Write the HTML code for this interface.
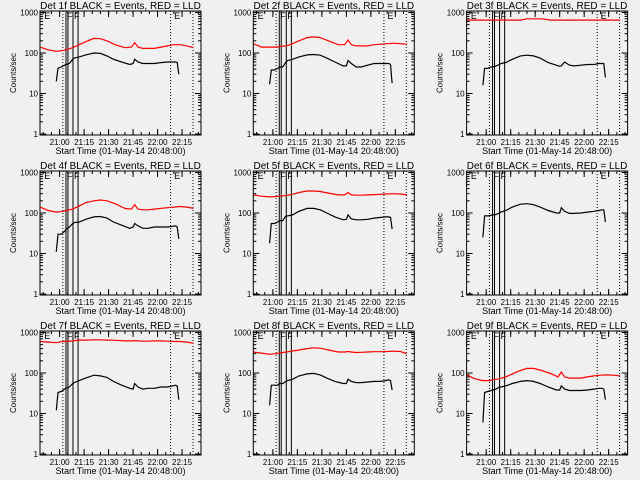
<!DOCTYPE html>
<html><head><meta charset="utf-8"><style>
html,body{margin:0;padding:0;background:#f0f0f0;}
svg{display:block;font-family:"Liberation Sans",sans-serif;}
</style></head><body>
<svg id="c" width="640" height="480" viewBox="0 0 640 480"></svg>
<script>
const detNames=["1f","2f","3f","4f","5f","6f","7f","8f","9f"];
const tBlack=[10,11,13,15,16,18,20,21,24,28,33,37,41,45,50,55,57,58,60,63,66,70,74,78,81,83,84,85];
const tRed=[0,5,10,14,16,20,24,28,33,37,41,46,52,56,58,60,63,66,70,74,78,82,86,90,94];
const black1=[20,42,45,50,52,55,70,75,80,90,100,98,85,70,60,52,55,70,60,55,55,55,58,60,60,60,58,30];
const black2=[17,38,38,42,45,45,60,65,70,80,90,92,88,75,60,48,48,65,55,45,45,50,55,55,55,55,52,18];
const black3=[16,42,42,45,45,48,52,55,58,70,85,88,85,75,58,50,47,48,60,50,48,50,52,52,55,55,55,25];
const black4=[11,30,30,35,40,45,55,58,60,70,80,82,75,60,50,42,45,55,48,42,42,45,45,45,47,48,45,23];
const black5=[18,55,55,60,65,65,85,85,90,110,130,130,120,100,80,68,70,90,72,68,68,70,75,78,80,80,78,40];
const black6=[25,85,85,88,90,92,100,105,115,140,165,170,160,140,115,100,100,135,110,98,98,100,105,110,115,120,120,60];
const black7=[12,33,35,40,42,45,55,58,65,75,88,85,78,62,50,42,40,55,45,40,42,42,45,45,48,50,48,22];
const black8=[16,50,50,50,55,55,62,65,70,85,95,98,90,75,62,55,55,70,62,58,58,60,62,62,65,68,65,38];
const black9=[6,33,35,37,38,40,45,45,48,55,62,65,62,55,45,38,38,48,40,37,37,37,38,40,42,42,40,22];
const red1=[140,120,110,115,120,135,160,190,230,225,200,160,135,140,180,140,130,130,130,140,150,160,160,150,135];
const red2=[170,140,140,140,145,150,170,200,240,250,240,200,160,160,210,160,150,150,150,160,165,170,175,170,165];
const red3=[650,650,650,650,650,650,650,650,650,700,700,700,650,650,650,650,650,650,650,650,650,650,650,650,650];
const red4=[140,115,105,110,115,125,150,180,200,210,200,170,130,125,160,125,120,120,125,130,135,140,145,140,130];
const red5=[280,260,250,255,260,270,290,320,350,350,340,310,280,280,320,280,275,275,280,285,290,295,300,295,280];
const red6=null;
const red7=[600,580,560,600,600,620,650,650,660,660,650,640,620,620,630,620,610,610,620,620,610,600,600,580,540];
const red8=[330,310,290,300,310,330,350,370,400,420,410,370,330,330,340,330,320,325,330,335,335,340,345,340,300];
const red9=[90,72,65,65,68,72,80,95,115,130,130,115,95,80,105,80,75,75,75,80,85,88,90,88,85];
const blacks=[black1,black2,black3,black4,black5,black6,black7,black8,black9];
const reds=[red1,red2,red3,red4,red5,red6,red7,red8,red9];
const xTickMin=[12,27,42,57,72,87];
const xTickLabels=["21:00","21:15","21:30","21:45","22:00","22:15"];
const yTickVals=[1,10,100,1000];
const yTickLabels=["1","10","100","1000"];
const dottedMin=[14,80,93.7];
const solidMin=[15.9,17.1,20.2,23.3];

const NS="http://www.w3.org/2000/svg";
const svg=document.getElementById('c');
function mk(tag,attrs,parent){const e=document.createElementNS(NS,tag);for(const k in attrs)e.setAttribute(k,attrs[k]);(parent||svg).appendChild(e);return e;}

for(let p=0;p<9;p++){
  const c=p%3,r=Math.floor(p/3);
  const L=40+213.3*c, R=L+161, T=11+160*r, B=135+160*r;
  const xs=m=>L+m*(R-L)/98.6;
  const ys=v=>B-1-Math.log10(v)*40.5;
  const g=mk('g',{});
  
  
  const title=mk('text',{x:(L+R)/2,y:T-2,'font-size':10,'text-anchor':'middle',fill:'#000'},g);
  title.textContent='Det '+detNames[p]+' BLACK = Events, RED = LLD';
  
  
  const yl=mk('text',{x:0,y:0,'font-size':8,'text-anchor':'middle',fill:'#000',transform:`translate(${L-24},${(T+B)/2}) rotate(-90)`},g);
  yl.textContent='Counts/sec';
  
  
  const xl=mk('text',{x:(L+R)/2,y:B+19,'font-size':9,'text-anchor':'middle',fill:'#000'},g);
  xl.textContent='Start Time (01-May-14 20:48:00)';
  
  
  for(let i=0;i<yTickVals.length;i++){
    const y=ys(yTickVals[i]);
    mk('line',{x1:L,x2:L+6,y1:y,y2:y,stroke:'#000'},g);
    mk('line',{x1:R-6,x2:R,y1:y,y2:y,stroke:'#000'},g);
    const t=mk('text',{x:L-2,y:y+3,'font-size':8,'text-anchor':'end',fill:'#000'},g);
    t.textContent=yTickLabels[i];
    
    
    if(i<yTickVals.length-1){for(let k=2;k<10;k++){const yy=ys(yTickVals[i]*k);
      mk('line',{x1:L,x2:L+3,y1:yy,y2:yy,stroke:'#000'},g);mk('line',{x1:R-3,x2:R,y1:yy,y2:yy,stroke:'#000'},g);}}
  }
  for(let i=0;i<xTickMin.length;i++){
    const x=xs(xTickMin[i]);
    mk('line',{x1:x,x2:x,y1:B,y2:B-6,stroke:'#000'},g);
    mk('line',{x1:x,x2:x,y1:T,y2:T+6,stroke:'#000'},g);
    const t=mk('text',{x:x,y:B+10,'font-size':8,'text-anchor':'middle',fill:'#000'},g);
    t.textContent=xTickLabels[i];
    
    
  }
  for(let m=2;m<98;m+=5){const x=xs(m);mk('line',{x1:x,x2:x,y1:B,y2:B-3,stroke:'#000'},g);mk('line',{x1:x,x2:x,y1:T,y2:T+3,stroke:'#000'},g);}
  dottedMin.forEach(m=>{const x=xs(m);const l=mk('line',{x1:x,x2:x,y1:T,y2:B,stroke:'#000','stroke-dasharray':'1,2'},g);
    });
  solidMin.forEach(m=>{const x=xs(m);const l=mk('line',{x1:x,x2:x,y1:T,y2:B,stroke:'#000'},g);
    });
  [[2,'E'],[81.5,'E'],[15.9,'F'],[20.2,'F']].forEach(a=>{const t=mk('text',{x:xs(a[0])+1,y:T+8,'font-size':9,fill:'#000'},g);t.textContent=a[1];
    });
  const rd=reds[p];
  if(rd){const pl=mk('polyline',{points:tRed.map((t,i)=>xs(t).toFixed(1)+','+ys(rd[i]).toFixed(1)).join(' '),fill:'none',stroke:'#ff0000','stroke-width':1.2},g);
    }
  const bk=blacks[p];
  const pb=mk('polyline',{points:tBlack.map((t,i)=>xs(t).toFixed(1)+','+ys(bk[i]).toFixed(1)).join(' '),fill:'none',stroke:'#000','stroke-width':1.2},g);
  
  const box=mk('rect',{x:L,y:T,width:R-L,height:B-T,fill:'none',stroke:'#000'},g);
  
}
</script>
</body></html>
